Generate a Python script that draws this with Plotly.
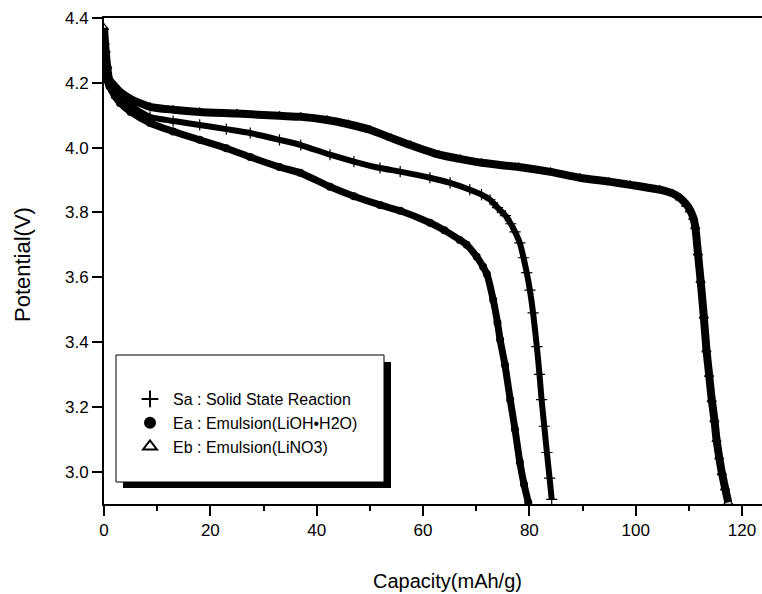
import plotly.graph_objects as go

# ---- data ----
sa_cap = [0.0, 0.4, 1.0, 2.0, 3.0, 5.0, 8.65, 13, 18, 23, 27.5, 33, 37, 42.5, 47, 51.9,
          55.7, 61.3, 65.1, 68.8, 71, 72.6, 74, 75.5, 76.5, 77.3, 78.2, 78.9, 79.5,
          80.1, 80.7, 81.4, 81.9, 82.3, 82.8, 83.3, 83.8, 84.2]
sa_v = [4.32, 4.25, 4.20, 4.18, 4.163, 4.13, 4.095, 4.082, 4.070, 4.057, 4.045, 4.024,
        4.008, 3.978, 3.957, 3.937, 3.926, 3.907, 3.891, 3.870, 3.855, 3.839, 3.815,
        3.790, 3.765, 3.740, 3.706, 3.66, 3.614, 3.56, 3.490, 3.386, 3.30, 3.222,
        3.14, 3.059, 2.98, 2.914]

ea_cap = [0.0, 0.4, 1.0, 2.0, 3.0, 5.0, 8.65, 13, 18, 23, 27.5, 33, 36.9, 42.5, 47,
          51.9, 55.7, 61.3, 64, 66.9, 68.2, 70.1, 71.3, 72, 73.2, 74, 74.5, 75.4,
          76.4, 77.3, 78.2, 79.0, 79.8]
ea_v = [4.30, 4.22, 4.19, 4.16, 4.138, 4.11, 4.076, 4.05, 4.024, 3.998, 3.971, 3.94,
        3.922, 3.879, 3.85, 3.823, 3.805, 3.768, 3.745, 3.715, 3.700, 3.663, 3.632,
        3.61, 3.53, 3.46, 3.407, 3.33, 3.222, 3.13, 3.03, 2.96, 2.905]

eb_cap = [0.0, 0.3, 0.6, 1.0, 2.0, 3.0, 5.0, 8.65, 13, 18, 25, 33, 37, 42, 46, 50, 54,
          57.6, 63, 67, 71, 78, 84, 89.5, 95, 99, 104.5, 107, 108.3, 109.5, 110.2,
          110.8, 111.2, 111.7, 112.2, 112.8, 113.3, 113.8, 114.3, 114.8, 115.2,
          115.7, 116.2, 116.8, 117.4]
eb_v = [4.37, 4.30, 4.25, 4.21, 4.19, 4.172, 4.15, 4.126, 4.117, 4.110, 4.105, 4.098,
        4.095, 4.085, 4.072, 4.055, 4.03, 4.008, 3.978, 3.965, 3.953, 3.940, 3.925,
        3.907, 3.895, 3.885, 3.870, 3.858, 3.845, 3.825, 3.808, 3.785, 3.756, 3.675,
        3.59, 3.48, 3.376, 3.30, 3.222, 3.16, 3.099, 3.045, 2.997, 2.95, 2.905]

names = ["Sa : Solid State Reaction", "Ea : Emulsion(LiOH\u2022H2O)", "Eb : Emulsion(LiNO3)"]
x_ticks = [0, 20, 40, 60, 80, 100, 120]
y_ticks = [3.0, 3.2, 3.4, 3.6, 3.8, 4.0, 4.2, 4.4]

FONT = "Liberation Sans, Arial, sans-serif"

fig = go.Figure()

series = [
    (sa_cap, sa_v, names[0], 6, dict(symbol="cross-thin-open", size=8, color="black",
                                    line=dict(color="black", width=1.2))),
    (ea_cap, ea_v, names[1], 7, dict(symbol="circle", size=8, color="black")),
    (eb_cap, eb_v, names[2], 8, dict(symbol="triangle-up-open", size=8, color="black",
                                    line=dict(color="black", width=1.2))),
]

for cap, v, name, lw, mk in series:
    fig.add_trace(go.Scatter(x=cap, y=v, mode="lines", showlegend=False,
                             line=dict(color="black", width=lw, shape="spline", smoothing=0.6),
                             hoverinfo="skip"))
for cap, v, name, lw, mk in series:
    fig.add_trace(go.Scatter(x=cap, y=v, mode="markers", name=name, marker=mk))

W, H = 762, 594
L, R, T, B = 104, 0, 18, 90
pw, ph = W - L - R, H - T - B

def px_x(px):
    return (px - L) / pw

def px_y(py):
    return (H - B - py) / ph

# legend box with drop shadow
fig.add_shape(type="rect", xref="paper", yref="paper",
              x0=px_x(123), x1=px_x(391), y0=px_y(488), y1=px_y(362),
              fillcolor="black", line=dict(width=0), layer="above")
fig.add_shape(type="rect", xref="paper", yref="paper",
              x0=px_x(116), x1=px_x(384), y0=px_y(482), y1=px_y(355),
              fillcolor="white", line=dict(color="black", width=1), layer="above")

fig.add_annotation(text="Capacity(mAh/g)", xref="paper", yref="paper",
                   x=px_x(447), y=px_y(581), xanchor="center", yanchor="middle",
                   showarrow=False, font=dict(family=FONT, size=20, color="black"))
fig.add_annotation(text="Potential(V)", xref="paper", yref="paper",
                   x=px_x(22), y=px_y(265), xanchor="center", yanchor="middle",
                   textangle=-90, showarrow=False,
                   font=dict(family=FONT, size=22, color="black"))

fig.update_layout(
    width=W, height=H,
    margin=dict(l=L, r=R, t=T, b=B, pad=0),
    paper_bgcolor="white", plot_bgcolor="white",
    font=dict(family=FONT, size=17, color="black"),
    showlegend=True,
    legend=dict(x=px_x(127), y=px_y(382), xanchor="left", yanchor="top",
                bgcolor="rgba(0,0,0,0)", borderwidth=0, itemwidth=36,
                font=dict(family=FONT, size=16, color="black"),
                itemsizing="constant", tracegroupgap=0),
    xaxis=dict(range=[0, 123.75], tickvals=x_ticks, ticktext=[str(t) for t in x_ticks],
               showgrid=False, zeroline=False, showline=True, linecolor="black",
               linewidth=2, mirror=True, ticks="outside", ticklen=10, tickwidth=1.5,
               tickcolor="black",
               minor=dict(dtick=10, tick0=0, ticks="outside", ticklen=5, tickwidth=1.5,
                          tickcolor="black", showgrid=False),
               tickfont=dict(family=FONT, size=17, color="black")),
    yaxis=dict(range=[2.9, 4.4], tickvals=y_ticks, ticktext=[f"{t:.1f}" for t in y_ticks],
               showgrid=False, zeroline=False, showline=True, linecolor="black",
               linewidth=2, mirror=False, ticks="outside", ticklen=10, tickwidth=1.5,
               tickcolor="black",
               tickfont=dict(family=FONT, size=17, color="black")),
)

fig.write_html("out.html", config={"displayModeBar": False},
               post_script="document.body.style.margin='0';document.body.style.overflow='hidden';")
